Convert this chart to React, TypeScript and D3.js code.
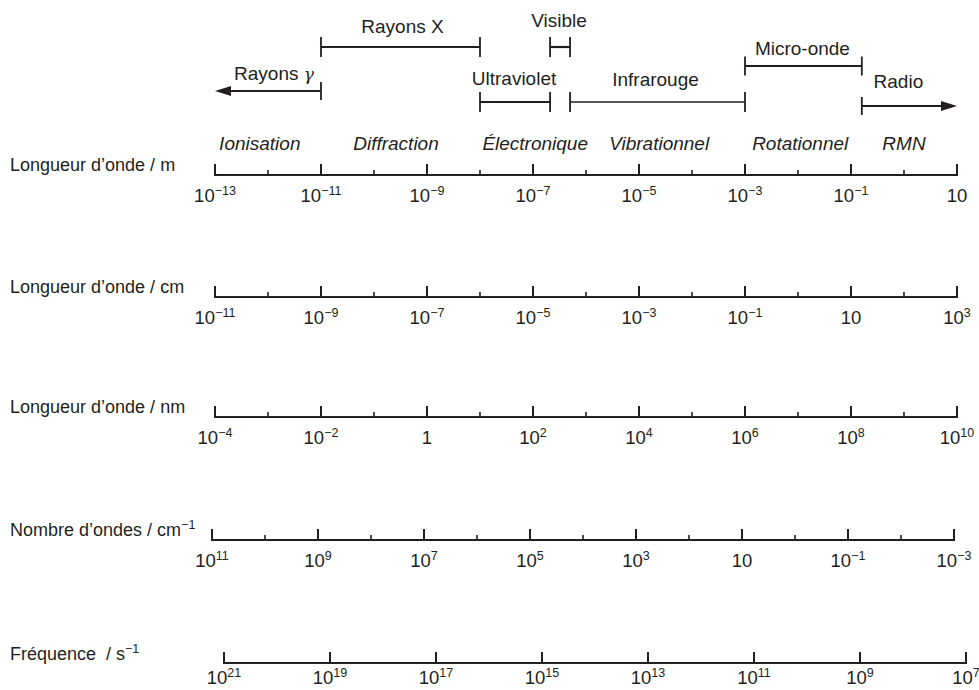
import * as React from 'react';
import * as d3 from 'd3';

// rows of the spectrum: label, first/last decade shown, minor ticks or not
const rowLabels = ["Longueur d’onde / m", "Longueur d’onde / cm", "Longueur d’onde / nm", "Nombre d’ondes / cm", "Fréquence  / s"];
const rowLabelExps = ["", "", "", "−1", "−1"];
const rowFirstExp = [-13, -11, -4, 11, 21];
const rowLastExp = [1, 3, 10, -3, 7];
const rowMinor = [true, true, true, true, false];

// radiation domains, wavelength in m
const bandNames = ["Rayons γ", "Rayons X", "Ultraviolet", "Visible", "Infrarouge", "Micro-onde", "Radio"];
const bandFrom = [1e-11, 1e-11, 1e-8, 2.1e-7, 5e-7, 1e-3, 0.16];
const bandTo = [1e-13, 1e-8, 2.1e-7, 5e-7, 1e-3, 0.16, 10];
const bandArrow = [true, false, false, false, false, false, true];

// physical processes, wavelength in m where the label sits
const processNames = ["Ionisation", "Diffraction", "Électronique", "Vibrationnel", "Rotationnel", "RMN"];
const processAt = [7e-13, 2.6e-10, 1.1e-7, 2.4e-5, 1.1e-2, 1];

const W = 979, H = 690;
const INK = "#231f20";
const FONT = "'Liberation Sans', Arial, Helvetica, sans-serif";
const rowY = [175, 297, 417, 540, 663];
const rowX0 = [215, 215, 215, 212, 224];
const rowX1 = [957, 957, 957, 954, 966];
const bandLayout = {
    "Rayons γ": { y: 91, ly: 80, dx: 6, half: 9 },
    "Rayons X": { y: 47, ly: 33, dx: 2, half: 10 },
    "Ultraviolet": { y: 102, ly: 85, dx: -1, half: 10 },
    "Visible": { y: 47, ly: 27, dx: -1, half: 10 },
    "Infrarouge": { y: 102, ly: 86, dx: -2, half: 10 },
    "Micro-onde": { y: 66, ly: 55, dx: -1, half: 9.5 },
    "Radio": { y: 106, ly: 88, dx: -11, half: 9 }
};

function addPower(text, e, size, dy) {
    if (e === 0) { text.text("1"); return; }
    if (e === 1) { text.text("10"); return; }
    text.append("tspan").text("10");
    text.append("tspan")
        .attr("dy", dy)
        .style("font-size", size + "px")
        .text(e < 0 ? "−" + (-e) : String(e));
}

class App extends React.Component<any, any> {
    private ref = React.createRef<SVGSVGElement>();

    componentDidMount() {
        this.draw();
    }

    draw() {
        const svg = d3.select(this.ref.current);
        svg.selectAll("*").remove();
        svg.append("rect").attr("width", W).attr("height", H).attr("fill", "#fff");

        // scale for the top (metre) axis, used for bands and processes
        const xm = d3.scaleLog().domain([1e-13, 10]).range([rowX0[0], rowX1[0]]);

        // axes
        rowLabels.forEach((label, i) => {
            const y = rowY[i];
            const first = rowFirstExp[i], last = rowLastExp[i];
            const x = d3.scaleLog()
                .domain([Math.pow(10, first), Math.pow(10, last)])
                .range([rowX0[i], rowX1[i]]);
            const g = svg.append("g");
            g.append("line")
                .attr("x1", rowX0[i]).attr("x2", rowX1[i])
                .attr("y1", y).attr("y2", y)
                .attr("stroke", INK).attr("stroke-width", 2);
            const step = last > first ? 1 : -1;
            const exps = d3.range(first, last + step, step);
            exps.forEach((e, k) => {
                const major = k % 2 === 0;
                if (!major && !rowMinor[i]) return;
                const px = x(Math.pow(10, e));
                g.append("line")
                    .attr("x1", px).attr("x2", px)
                    .attr("y1", y + 1).attr("y2", y - (major ? 11 : 5))
                    .attr("stroke", INK).attr("stroke-width", major ? 2 : 1.6);
                if (major) {
                    const t = g.append("text")
                        .attr("x", px).attr("y", i === 4 ? y + 21 : y + 27)
                        .attr("text-anchor", "middle")
                        .style("font-family", FONT).style("font-size", "18.5px")
                        .attr("fill", INK);
                    addPower(t, e, 12.5, -7);
                }
            });
            const lt = g.append("text")
                .attr("x", 10).attr("y", i === 4 ? y - 3 : y - 4)
                .style("font-family", FONT).style("font-size", "18px")
                .style("white-space", "pre")
                .attr("fill", INK);
            lt.append("tspan").text(label);
            if (rowLabelExps[i]) {
                lt.append("tspan").attr("dy", -7).style("font-size", "12.5px").text(rowLabelExps[i]);
            }
        });

        // process labels
        svg.append("g").selectAll("text")
            .data(processNames)
            .enter()
            .append("text")
            .attr("x", (d, i) => xm(processAt[i]))
            .attr("y", 150)
            .attr("text-anchor", "middle")
            .style("font-family", FONT).style("font-size", "19px").style("font-style", "italic")
            .attr("fill", INK)
            .text(d => d);

        // bands
        const bg = svg.append("g");
        bandNames.forEach((name, i) => {
            const L = bandLayout[name];
            const a = xm(bandFrom[i]), b = xm(bandTo[i]);
            const dir = b > a ? 1 : -1;
            const lineEnd = bandArrow[i] ? b - dir * 12 : b;
            bg.append("line")
                .attr("x1", a).attr("x2", lineEnd)
                .attr("y1", L.y).attr("y2", L.y)
                .attr("stroke", INK).attr("stroke-width", name === "Infrarouge" ? 1.6 : 2.2);
            bg.append("line")
                .attr("x1", a).attr("x2", a)
                .attr("y1", L.y - L.half).attr("y2", L.y + L.half)
                .attr("stroke", INK).attr("stroke-width", 1.8);
            if (bandArrow[i]) {
                bg.append("path")
                    .attr("d", d3.line()([[b, L.y], [b - dir * 16, L.y - 5], [b - dir * 16, L.y + 5]]) + "Z")
                    .attr("fill", INK);
            } else {
                bg.append("line")
                    .attr("x1", b).attr("x2", b)
                    .attr("y1", L.y - L.half).attr("y2", L.y + L.half)
                    .attr("stroke", INK).attr("stroke-width", 1.8);
            }
            const t = bg.append("text")
                .attr("x", (a + b) / 2 + L.dx).attr("y", L.ly)
                .attr("text-anchor", "middle")
                .style("font-family", FONT).style("font-size", "19px")
                .attr("fill", INK);
            if (name === "Rayons γ") {
                t.append("tspan").text("Rayons ");
                t.append("tspan").style("font-style", "italic").style("font-family", "'DejaVu Serif', serif").style("font-size", "17px").text("γ");
            } else {
                t.text(name);
            }
        });
    }

    render() {
        return (
            <svg ref={this.ref} width={W} height={H}
                style={{ position: "absolute", left: 0, top: 0, display: "block" }} />
        );
    }
}

export default App;
